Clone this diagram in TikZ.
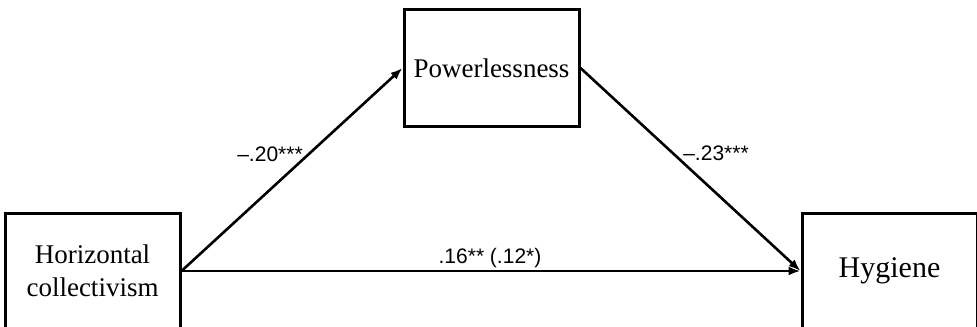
\documentclass[tikz,border=0pt]{standalone}
\usepackage{fontspec}
\newfontfamily\boxfont{Liberation Serif}
\newfontfamily\labfont{Liberation Sans}
\usepackage{tikz}
\usetikzlibrary{arrows.meta}

\tikzset{
	varbox/.style={draw, line width=1.5pt, minimum width=87.5pt, minimum height=58pt, align=center, font=\boxfont\fontsize{13.5}{16.5}\selectfont},
	coef/.style={font=\labfont\fontsize{10.5}{12}\selectfont},
	path/.style={->,>={Latex[length=6pt,width=4.5pt]}, line width=1.3pt}
}

\begin{document}
\begin{tikzpicture}[x=0.5pt,y=-0.5pt]
			
			\useasboundingbox (0,0) rectangle (977,326);
			\clip (0,0) rectangle (977,326);
			
			% the three variables
			\node[varbox] (hc) at (92.5,271) {Horizontal\\collectivism};
			\node[varbox] (pw) at (491.5,68) {Powerlessness};
			\node[varbox, font=\boxfont\fontsize{15}{18}\selectfont] (hy) at (889.5,271) {Hygiene};
			
			% paths
			\draw[path] (hc.east) -- (pw.west);
			\draw[path] (pw.east) -- (hy.west);
			\draw[path] (hc.east) -- (hy.west);
			
			% coefficients
			\node[coef] (a) at (270,154) {–.20***};
			\node[coef] (b) at (716,153) {–.23***};
			\node[coef] (c) at (490,258) {.16** (.12*)};
			
		\end{tikzpicture}
\end{document}
